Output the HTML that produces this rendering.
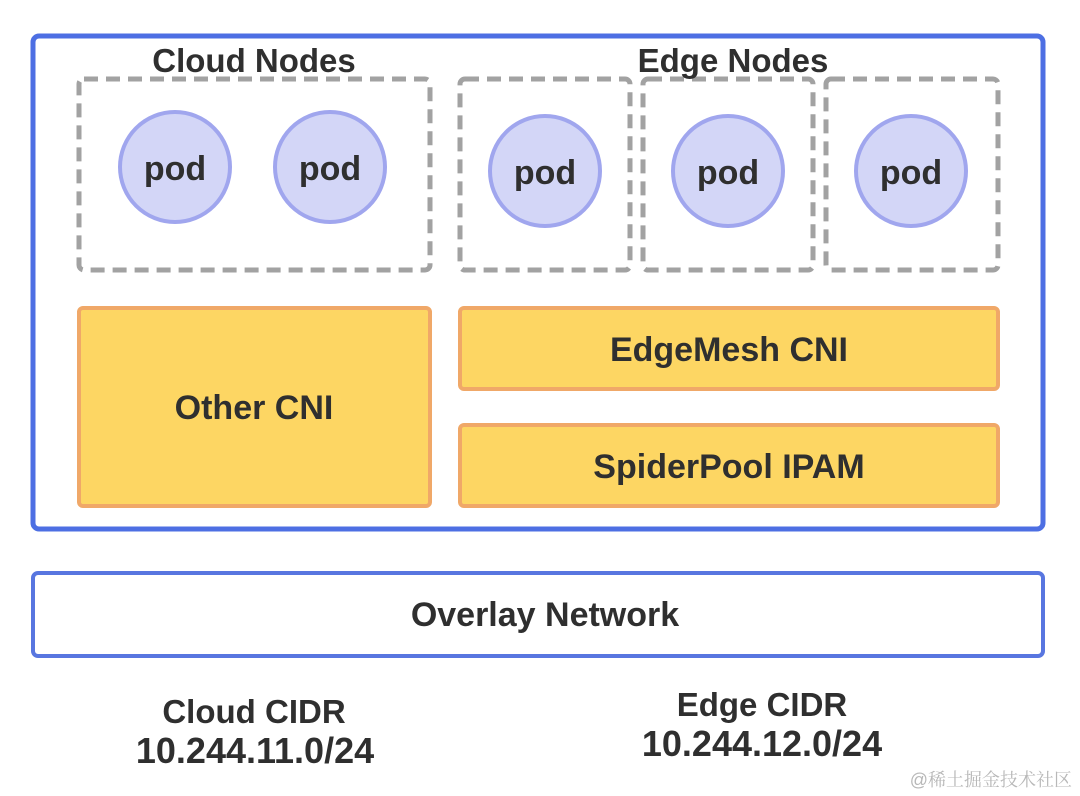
<!DOCTYPE html>
<html><head><meta charset="utf-8"><style>body{margin:0;background:#fff}svg{display:block}</style></head><body>
<svg width="1080" height="796" viewBox="0 0 1080 796" xmlns="http://www.w3.org/2000/svg" font-family="Liberation Sans, DejaVu Sans, sans-serif" font-weight="bold">
<rect width="1080" height="796" fill="#fff"/>
<rect x="33" y="36" width="1010" height="493" rx="6" fill="#fff" stroke="#4d6fe3" stroke-width="5"/>
<rect x="33" y="573" width="1010" height="83" rx="5" fill="#fff" stroke="#5876e0" stroke-width="4"/>
<g fill="none" stroke="#a2a2a2" stroke-width="5" stroke-dasharray="14,8">
<rect x="79" y="79" width="351" height="191" rx="5"/>
<rect x="460" y="79" width="170" height="191" rx="5"/>
<rect x="643" y="79" width="170" height="191" rx="5"/>
<rect x="826" y="79" width="172" height="191" rx="5"/>
</g>
<g fill="#d3d6f7" stroke="#a0a6ee" stroke-width="4">
<circle cx="175" cy="167" r="55"/><circle cx="330" cy="167" r="55"/>
<circle cx="545" cy="171" r="55"/><circle cx="728" cy="171" r="55"/><circle cx="911" cy="171" r="55"/>
</g>
<g fill="#fdd663" stroke="#f0a868" stroke-width="4">
<rect x="79" y="308" width="351" height="198" rx="4"/>
<rect x="460" y="308" width="538" height="81" rx="4"/>
<rect x="460" y="425" width="538" height="81" rx="4"/>
</g>
<g fill="#2f2f2f" text-anchor="middle" font-size="33">
<text x="254" y="72">Cloud Nodes</text>
<text x="733" y="72">Edge  Nodes</text>
<g font-size="34">
<text x="175" y="180">pod</text><text x="330" y="180">pod</text>
<text x="545" y="184">pod</text><text x="728" y="184">pod</text><text x="911" y="184">pod</text>
<text x="254" y="419">Other CNI</text>
<text x="729" y="361">EdgeMesh CNI</text>
<text x="729" y="478">SpiderPool IPAM</text>
<text x="545" y="626">Overlay Network</text>
</g>
<text x="254" y="723">Cloud CIDR</text>
<text x="762" y="716">Edge CIDR</text>
<g font-size="36">
<text x="255" y="763">10.244.11.0/24</text>
<text x="762" y="756">10.244.12.0/24</text>
</g>
</g>
<text x="1072" y="786" text-anchor="end" font-weight="normal" font-size="18" fill="#b8b8b8" font-family="Liberation Sans, Noto Serif CJK SC, sans-serif">@稀土掘金技术社区</text>
</svg>
</body></html>
